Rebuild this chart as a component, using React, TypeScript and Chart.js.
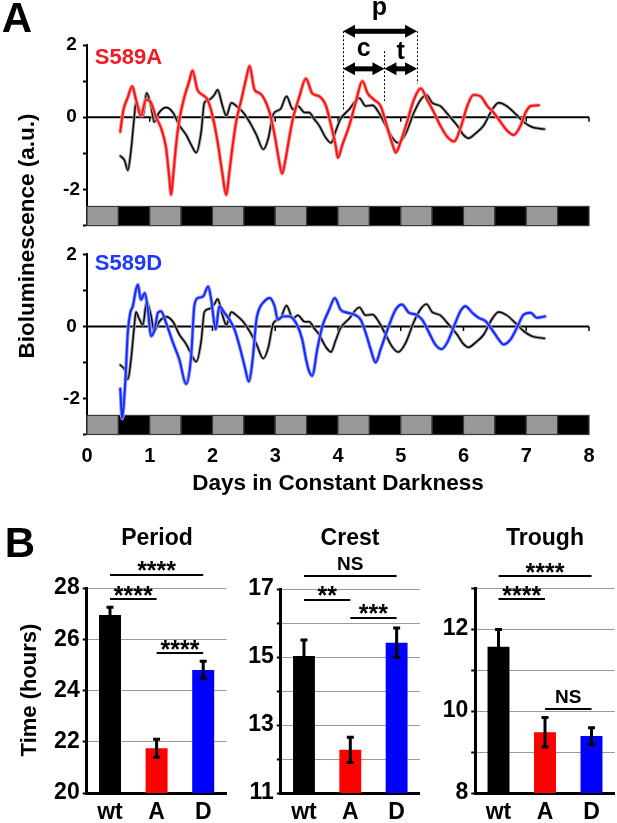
import React, { useEffect, useRef } from "react";
import { Chart, registerables } from "chart.js";
Chart.register(...registerables);

const FONT = '"Liberation Sans", Arial, Helvetica, sans-serif';

// ---------------- Panel A data ----------------
const dayTicks = [0, 1, 2, 3, 4, 5, 6, 7, 8];

const wtDays = [
  0.53, 0.6, 0.65, 0.7, 0.75, 0.78, 0.83, 0.89, 0.95, 1.02, 1.07, 1.15, 1.26, 1.37, 1.47, 1.58, 1.66, 1.74,
  1.82, 1.87, 1.95, 2.03, 2.08, 2.16, 2.22, 2.3, 2.38, 2.49, 2.59, 2.7, 2.81, 2.89, 2.97, 3.08, 3.18, 3.28,
  3.36, 3.47, 3.54, 3.62, 3.7, 3.81, 3.89, 3.96, 4.04, 4.18, 4.34, 4.44, 4.55, 4.65, 4.76, 4.87, 4.96, 5.08,
  5.21, 5.32, 5.41, 5.5, 5.63, 5.77, 5.9, 6.0, 6.08, 6.19, 6.32, 6.46, 6.56, 6.69, 6.83, 6.96, 7.09, 7.2, 7.29,
];
const wtValues = [
  -1.07, -1.2, -1.47, -0.94, -0.05, 0.4, 0.22, 0.04, 0.67, 0.31, -0.13, 0.13, 0.27, 0.13, -0.22, -0.49, -0.76, -0.98,
  -0.4, 0.4, 0.49, 0.62, 0.76, 0.31, 0.04, 0.4, 0.31, 0.13, -0.13, -0.49, -0.89, -0.58, 0.09, 0.22, 0.58, 0.22,
  0.31, 0.13, 0.13, -0.05, -0.23, -0.58, -0.71, -0.4, -0.05, 0.22, 0.53, 0.31, 0.33, 0.13, -0.23, -0.58, -0.71, -0.45,
  0.13, 0.49, 0.62, 0.4, 0.31, 0.04, -0.23, -0.49, -0.58, -0.45, -0.23, 0.22, 0.4, 0.31, 0.09, -0.13, -0.27, -0.31, -0.33,
];

const s589aDays = [
  0.53, 0.58, 0.65, 0.72, 0.78, 0.86, 0.94, 1.02, 1.1, 1.18, 1.26, 1.31, 1.34, 1.38, 1.42, 1.47, 1.55, 1.63, 1.68,
  1.76, 1.84, 1.92, 2.0, 2.08, 2.15, 2.22, 2.27, 2.32, 2.38, 2.46, 2.54, 2.59, 2.67, 2.75, 2.83, 2.91, 2.99, 3.05,
  3.11, 3.16, 3.22, 3.28, 3.38, 3.49, 3.59, 3.7, 3.81, 3.89, 3.96, 4.0, 4.07, 4.18, 4.28, 4.39, 4.47, 4.57, 4.68,
  4.79, 4.87, 4.92, 5.0, 5.1, 5.21, 5.32, 5.42, 5.53, 5.63, 5.74, 5.85, 5.95, 6.06, 6.16, 6.27, 6.38, 6.48, 6.59,
  6.69, 6.8, 6.91, 6.99, 7.07, 7.2,
];
const s589aValues = [
  -0.4, 0.2, 0.55, 0.86, 0.49, 0.04, 0.49, 0.4, 0.0, -0.3, -0.85, -1.65, -2.15, -1.5, -0.76, -0.1, 0.55, 1.0, 1.29,
  0.76, 0.62, 0.49, 0.04, -0.67, -1.47, -2.15, -1.5, -0.8, -0.1, 0.49, 1.1, 1.42, 0.76, 0.67, 0.49, 0.13, -0.49, -1.1,
  -1.56, -1.2, -0.6, -0.05, 0.55, 1.07, 0.66, 0.58, 0.31, -0.23, -0.76, -1.12, -0.76, -0.23, 0.4, 1.0, 0.67, 0.49, 0.31,
  -0.31, -0.76, -0.98, -0.67, -0.13, 0.49, 0.8, 0.49, 0.13, -0.23, -0.54, -0.67, -0.31, 0.31, 0.62, 0.58, 0.31, 0.13, -0.13,
  -0.36, -0.49, -0.23, 0.13, 0.31, 0.33,
];

const s589dDays = [
  0.53, 0.56, 0.61, 0.65, 0.69, 0.73, 0.78, 0.81, 0.86, 0.92, 0.97, 1.02, 1.08, 1.13, 1.18, 1.26, 1.37, 1.47, 1.58,
  1.66, 1.71, 1.77, 1.85, 1.93, 1.98, 2.05, 2.11, 2.19, 2.27, 2.35, 2.43, 2.51, 2.58, 2.64, 2.7, 2.75, 2.8, 2.91,
  2.99, 3.04, 3.12, 3.22, 3.33, 3.43, 3.49, 3.54, 3.59, 3.67, 3.75, 3.86, 3.95, 4.04, 4.15, 4.26, 4.36, 4.44, 4.52,
  4.6, 4.68, 4.79, 4.92, 5.02, 5.13, 5.24, 5.34, 5.45, 5.55, 5.65, 5.74, 5.85, 5.95, 6.03, 6.14, 6.24, 6.35, 6.45,
  6.56, 6.64, 6.75, 6.85, 6.96, 7.07, 7.17, 7.3,
];
const s589dValues = [
  -1.73, -2.56, -1.55, -0.17, 0.38, 0.56, 1.02, 1.16, 0.74, 0.93, 0.47, -0.27, -0.08, 0.38, 0.42, 0.1, -0.45, -0.91, -1.6,
  -0.82, 0.56, 0.79, 0.83, 1.11, 0.74, -0.08, 0.56, 0.38, 0.19, -0.08, -0.54, -1.09, -1.53, -0.91, 0.19, 0.51, 0.65, 0.79,
  0.56, 0.19, 0.28, 0.28, 0.1, -0.36, -0.91, -1.25, -1.37, -0.63, 0.0, 0.47, 0.79, 0.47, 0.38, 0.33, 0.19, -0.17, -0.63,
  -1.0, -0.63, -0.08, 0.47, 0.61, 0.38, 0.33, 0.19, -0.17, -0.5, -0.63, -0.45, 0.01, 0.42, 0.56, 0.38, 0.24, 0.15, -0.08,
  -0.36, -0.5, -0.36, -0.04, 0.33, 0.38, 0.24, 0.28,
];

// light (L) / dark (D) half-day blocks shown under the traces
const cyclePhases = ["L", "D", "L", "D", "L", "D", "L", "D", "L", "D", "L", "D", "L", "D", "L", "D"];
const cycleBand = [-2.47, -3];

// period / crest / trough schematic arrows: [fromDay, toDay, value]
const schemeArrows = [
  [4.08, 5.26, 2.38],
  [4.08, 4.74, 1.34],
  [4.74, 5.26, 1.34],
];
const schemeLabels: [string, number, number][] = [
  ["p", 4.66, 3.02],
  ["c", 4.41, 1.87],
  ["t", 5.0, 1.87],
];
const schemeGuides = [
  [4.08, 2.38, 0.2],
  [4.74, 1.83, 0.45],
  [5.26, 2.38, 0.93],
];

// ---------------- Panel B data ----------------
const groups = ["wt", "A", "D"];
const groupColors = ["#000000", "#ff0000", "#0000ff"];
const periodMeans = [26.95, 21.75, 24.8];
const periodErr = [0.3, 0.35, 0.34];
const crestMeans = [15.03, 12.27, 15.42];
const crestErr = [0.47, 0.37, 0.43];
const troughMeans = [11.57, 9.48, 9.39];
const troughErr = [0.42, 0.36, 0.2];
const periodSig: [number, number, number, string][] = [
  [0, 2, 28.51, "****"],
  [0, 1, 27.57, "****"],
  [1, 2, 25.46, "****"],
];
const crestSig: [number, number, number, string][] = [
  [0, 2, 17.38, "NS"],
  [0, 1, 16.68, "**"],
  [1, 2, 16.15, "***"],
];
const troughSig: [number, number, number, string][] = [
  [0, 2, 13.29, "****"],
  [0, 1, 12.73, "****"],
  [1, 2, 10.05, "NS"],
];

// ---------------- helpers ----------------
const pts = (xs: number[], ys: number[]) => xs.map((x, i) => ({ x, y: ys[i] }));

function cyclePlugin() {
  return {
    id: "cycle",
    beforeDatasetsDraw(chart: any) {
      const { ctx, scales } = chart;
      const x = scales.x;
      const y = scales.y;
      const yt = y.getPixelForValue(cycleBand[0]);
      const yb = y.getPixelForValue(cycleBand[1]);
      ctx.save();
      cyclePhases.forEach((ph, i) => {
        const x0 = x.getPixelForValue(i * 0.5);
        const x1 = x.getPixelForValue((i + 1) * 0.5);
        ctx.fillStyle = ph === "L" ? "#999999" : "#000000";
        ctx.fillRect(x0, yt, x1 - x0, yb - yt);
        ctx.strokeStyle = "#3a3a3a";
        ctx.lineWidth = 1.2;
        ctx.strokeRect(x0, yt, x1 - x0, yb - yt);
      });
      // zero line with day ticks
      const y0 = y.getPixelForValue(0);
      ctx.strokeStyle = "#000";
      ctx.lineWidth = 2;
      ctx.beginPath();
      ctx.moveTo(chart.chartArea.left, y0);
      ctx.lineTo(chart.chartArea.right, y0);
      ctx.stroke();
      ctx.lineWidth = 1.5;
      dayTicks.forEach((d) => {
        const px = x.getPixelForValue(d);
        ctx.beginPath();
        ctx.moveTo(px, y0);
        ctx.lineTo(px, y0 + 4.5);
        ctx.stroke();
      });
      ctx.restore();
    },
  };
}

function drawDoubleArrow(ctx: CanvasRenderingContext2D, x1: number, x2: number, y: number) {
  const head = 12;
  const half = 6.5;
  const shaft = 5;
  ctx.fillStyle = "#000";
  ctx.fillRect(x1 + head - 1, y - shaft / 2, x2 - x1 - 2 * head + 2, shaft);
  ctx.beginPath();
  ctx.moveTo(x1, y);
  ctx.lineTo(x1 + head, y - half);
  ctx.lineTo(x1 + head, y + half);
  ctx.closePath();
  ctx.fill();
  ctx.beginPath();
  ctx.moveTo(x2, y);
  ctx.lineTo(x2 - head, y - half);
  ctx.lineTo(x2 - head, y + half);
  ctx.closePath();
  ctx.fill();
}

function schemePlugin() {
  return {
    id: "scheme",
    afterDraw(chart: any) {
      const { ctx, scales } = chart;
      const x = scales.x;
      const y = scales.y;
      ctx.save();
      ctx.strokeStyle = "#000";
      ctx.lineWidth = 1;
      ctx.setLineDash([2, 2]);
      schemeGuides.forEach(([d, v0, v1]) => {
        const px = Math.round(x.getPixelForValue(d)) + 0.5;
        ctx.beginPath();
        ctx.moveTo(px, y.getPixelForValue(v0));
        ctx.lineTo(px, y.getPixelForValue(v1));
        ctx.stroke();
      });
      ctx.setLineDash([]);
      schemeArrows.forEach(([a, b, v]) => {
        drawDoubleArrow(ctx, x.getPixelForValue(a), x.getPixelForValue(b), y.getPixelForValue(v));
      });
      ctx.fillStyle = "#000";
      ctx.font = `bold 25px ${FONT}`;
      ctx.textAlign = "center";
      ctx.textBaseline = "alphabetic";
      schemeLabels.forEach(([t, d, v]) => {
        const base = t === "t" ? 0.36 : 0.26;
        ctx.fillText(t, x.getPixelForValue(d), y.getPixelForValue(v) + 25 * base);
      });
      ctx.restore();
    },
  };
}

function lineConfig(mDays: number[], mVals: number[], mColor: string, mBand: string, bottom: boolean, withScheme: boolean) {
  const mutant = pts(mDays, mVals);
  const wt = pts(wtDays, wtValues);
  const common = {
    pointRadius: 0,
    fill: false,
    cubicInterpolationMode: "monotone",
    borderJoinStyle: "round",
    borderCapStyle: "round",
  };
  const plugins: any[] = [cyclePlugin()];
  if (withScheme) plugins.push(schemePlugin());
  return {
    type: "line",
    data: {
      datasets: [
        { ...common, data: mutant, borderColor: mColor, borderWidth: 1.9, order: 0 },
        { ...common, data: mutant, borderColor: mBand, borderWidth: 3.6, order: 1 },
        { ...common, data: wt, borderColor: "#000000", borderWidth: 1.4, order: 2 },
        { ...common, data: wt, borderColor: "#a0a0a0", borderWidth: 3.2, order: 3 },
      ],
    },
    options: {
      responsive: false,
      animation: false,
      events: [],
      layout: { padding: bottom ? { top: 12, right: 28, bottom: 0, left: 0 } : { top: 45, right: 28, bottom: 10, left: 0 } },
      plugins: { legend: { display: false }, tooltip: { enabled: false } },
      scales: {
        x: {
          type: "linear",
          min: 0,
          max: 8,
          display: bottom,
          grid: { display: false, drawTicks: false },
          border: { display: false },
          ticks: { stepSize: 1, color: "#000", font: { family: FONT, size: 20, weight: "bold" }, padding: 10 },
          title: {
            display: true,
            text: "Days in Constant Darkness",
            color: "#000",
            font: { family: FONT, size: 22.5, weight: "bold" },
            padding: { top: 0, bottom: 13 },
          },
          afterFit: (s: any) => {
            s.height = bottom ? 75.5 : 0;
          },
        },
        y: {
          min: -3,
          max: 2,
          ticks: {
            stepSize: 1,
            autoSkip: false,
            color: "#000",
            font: { family: FONT, size: 19, weight: "bold" },
            padding: 3,
            crossAlign: "center",
            callback: (v: number) => (v % 2 === 0 ? String(v) : ""),
          },
          grid: { drawOnChartArea: false, drawTicks: true, tickLength: 4, tickColor: "#000", tickWidth: 2 },
          border: { color: "#000", width: 2 },
          afterFit: (s: any) => {
            s.width = 87;
          },
        },
      },
    },
    plugins,
  };
}

function barPlugin(means: number[], errs: number[], sig: [number, number, number, string][]) {
  return {
    id: "errsig",
    afterDatasetsDraw(chart: any) {
      const { ctx, scales } = chart;
      const x = scales.x;
      const y = scales.y;
      ctx.save();
      ctx.strokeStyle = "#000";
      ctx.lineWidth = 3;
      means.forEach((m, i) => {
        const px = x.getPixelForValue(i);
        const yt = y.getPixelForValue(m + errs[i]);
        const yb = y.getPixelForValue(m - errs[i]);
        ctx.beginPath();
        ctx.moveTo(px, yt);
        ctx.lineTo(px, yb);
        ctx.moveTo(px - 3.5, yt);
        ctx.lineTo(px + 3.5, yt);
        ctx.moveTo(px - 3.5, yb);
        ctx.lineTo(px + 3.5, yb);
        ctx.stroke();
      });
      ctx.lineWidth = 2;
      ctx.fillStyle = "#000";
      ctx.textAlign = "center";
      ctx.textBaseline = "alphabetic";
      sig.forEach(([a, b, v, label]) => {
        const x0 = x.getPixelForValue(a);
        const x1 = x.getPixelForValue(b);
        const py = y.getPixelForValue(v);
        ctx.beginPath();
        ctx.moveTo(x0, py);
        ctx.lineTo(x1, py);
        ctx.stroke();
        if (label.includes("*")) {
          ctx.font = `bold 25px ${FONT}`;
          ctx.fillText(label, (x0 + x1) / 2, py + 4.5);
        } else {
          ctx.font = `bold 19px ${FONT}`;
          ctx.fillText(label, (x0 + x1) / 2, py - 6);
        }
      });
      ctx.restore();
    },
  };
}

function barConfig(
  means: number[],
  errs: number[],
  sig: [number, number, number, string][],
  yMin: number,
  yMax: number,
  step: number,
  showLabel: (v: number) => boolean,
  axisWidth: number,
  rightPad: number,
  topPad: number
) {
  return {
    type: "bar",
    data: {
      labels: groups,
      datasets: [
        {
          data: means,
          backgroundColor: groupColors,
          borderWidth: 0,
          barPercentage: 0.472,
          categoryPercentage: 1,
        },
      ],
    },
    options: {
      responsive: false,
      animation: false,
      events: [],
      layout: { padding: { top: topPad, right: rightPad, bottom: 0, left: 0 } },
      plugins: { legend: { display: false }, tooltip: { enabled: false } },
      scales: {
        x: {
          offset: true,
          grid: { display: false, drawTicks: false },
          border: { color: "#000", width: 3 },
          ticks: { color: "#000", font: { family: FONT, size: 23, weight: "bold" }, padding: 6 },
          afterFit: (s: any) => {
            s.height = 30;
          },
        },
        y: {
          min: yMin,
          max: yMax,
          ticks: {
            stepSize: step,
            autoSkip: false,
            color: "#000",
            font: { family: FONT, size: 23, weight: "bold" },
            padding: 3,
            callback: (v: number) => (showLabel(v) ? String(v) : ""),
          },
          grid: {
            color: (c: any) => (c.tick && c.tick.value === yMin ? "rgba(0,0,0,0)" : "#9a9a9a"),
            lineWidth: 1,
            drawTicks: true,
            tickLength: 4,
            tickColor: "#000",
            tickWidth: 2,
          },
          border: { color: "#000", width: 3 },
          afterFit: (s: any) => {
            s.width = axisWidth;
          },
        },
      },
    },
    plugins: [barPlugin(means, errs, sig)],
  };
}

function ChartBox(props: { make: () => any; left: number; top: number; width: number; height: number }) {
  const ref = useRef<HTMLCanvasElement>(null);
  useEffect(() => {
    const chart = new Chart(ref.current as HTMLCanvasElement, props.make());
    return () => chart.destroy();
  }, []);
  return (
    <canvas
      ref={ref}
      width={props.width}
      height={props.height}
      style={{ position: "absolute", left: props.left, top: props.top, width: props.width, height: props.height }}
    />
  );
}

function Label(props: { x: number; y: number; text: string; size: number; color?: string; rotate?: boolean }) {
  return (
    <div
      style={{
        position: "absolute",
        left: props.x,
        top: props.y,
        transform: `translate(-50%, -50%)${props.rotate ? " rotate(-90deg)" : ""}`,
        fontFamily: FONT,
        fontWeight: "bold",
        fontSize: props.size,
        lineHeight: 1,
        whiteSpace: "nowrap",
        color: props.color || "#000",
      }}
    >
      {props.text}
    </div>
  );
}

export default function App() {
  return (
    <div style={{ position: "absolute", left: 0, top: 0, width: 617, height: 823, background: "#fff", overflow: "hidden" }}>
      <ChartBox
        make={() => lineConfig(s589aDays, s589aValues, "#ff1010", "#f58a8a", false, true)}
        left={0}
        top={0}
        width={617}
        height={240}
      />
      <ChartBox
        make={() => lineConfig(s589dDays, s589dValues, "#1428ff", "#8d99ff", true, false)}
        left={0}
        top={240}
        width={617}
        height={270}
      />
      <ChartBox
        make={() =>
          barConfig(periodMeans, periodErr, periodSig, 20, 28, 2, () => true, 86.7, 5.5, 78)
        }
        left={0}
        top={510}
        width={232}
        height={313}
      />
      <ChartBox
        make={() =>
          barConfig(crestMeans, crestErr, crestSig, 11, 17, 1, (v) => v % 2 === 1, 80.8, 2.2, 79)
        }
        left={200}
        top={510}
        width={222}
        height={313}
      />
      <ChartBox
        make={() =>
          barConfig(troughMeans, troughErr, troughSig, 8, 13, 1, (v) => v % 2 === 0, 75.25, 2.25, 78)
        }
        left={400}
        top={510}
        width={217}
        height={313}
      />
      <Label x={17} y={18} text="A" size={42} />
      <Label x={20} y={543} text="B" size={42} />
      <Label x={128.5} y={57} text="S589A" size={22} color="#f01c24" />
      <Label x={128.5} y={263} text="S589D" size={22} color="#1f3aff" />
      <Label x={27} y={236} text="Bioluminescence (a.u.)" size={22.5} rotate />
      <Label x={29} y={690} text="Time (hours)" size={22} rotate />
      <Label x={157} y={537} text="Period" size={23} />
      <Label x={350} y={537} text="Crest" size={23} />
      <Label x={545} y={537} text="Trough" size={23} />
    </div>
  );
}
